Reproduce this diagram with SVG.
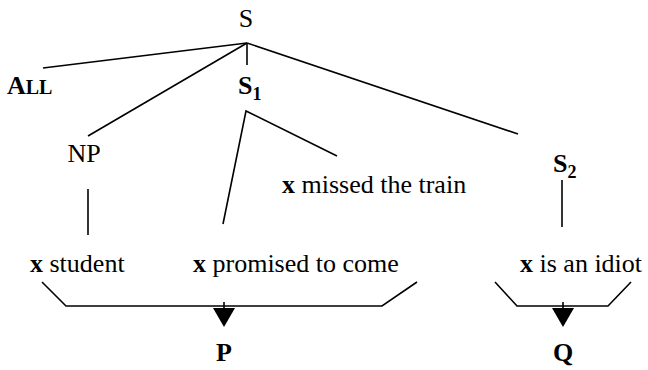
<svg xmlns="http://www.w3.org/2000/svg" width="648" height="370" viewBox="0 0 648 370">
<style>
text{font-family:"Liberation Serif","Times New Roman",serif;font-size:26px;fill:#000}
.b{font-weight:bold}
.sub{font-size:18px;font-weight:bold}
line,polyline{stroke:#000;stroke-width:1.6;fill:none}
.arr{fill:#000;stroke:none}
</style>
<g id="connectors">
<line x1="247" y1="43" x2="43" y2="68"/>
<line x1="247" y1="43" x2="247" y2="65"/>
<line x1="247" y1="43" x2="88" y2="136"/>
<line x1="247" y1="43" x2="518" y2="134"/>
<polyline points="223,224 246,111 337,156"/>
<line x1="88" y1="189" x2="88" y2="235"/>
<line x1="562" y1="180" x2="562" y2="227"/>
<polyline points="42,282 66,306 382,306 417,282"/>
<polyline points="495,282 517,306 608,306 631,282"/>
<line x1="224" y1="302" x2="224" y2="309"/>
<polygon class="arr" points="213,308 235,308 224,327"/>
<line x1="563" y1="302" x2="563" y2="309"/>
<polygon class="arr" points="552,308 574,308 563,327"/>
</g>
<g id="S"><text x="246" y="27" text-anchor="middle">S</text></g>
<g id="ALL"><text x="7" y="94" class="b">A<tspan font-size="20">LL</tspan></text></g>
<g id="S1"><text x="238" y="94" class="b">S<tspan class="sub" dy="6">1</tspan></text></g>
<g id="NP"><text x="84" y="162" text-anchor="middle">NP</text></g>
<g id="missed"><text x="282" y="193"><tspan class="b">x</tspan> missed the train</text></g>
<g id="S2"><text x="553" y="172" class="b">S<tspan class="sub" dy="6">2</tspan></text></g>
<g id="student"><text x="30" y="272"><tspan class="b">x</tspan> student</text></g>
<g id="promised"><text x="193" y="272"><tspan class="b">x</tspan> promised to come</text></g>
<g id="idiot"><text x="520" y="272"><tspan class="b">x</tspan> is an idiot</text></g>
<g id="P"><text x="224" y="361" text-anchor="middle" class="b">P</text></g>
<g id="Q"><text x="563" y="361" text-anchor="middle" class="b">Q</text></g>
</svg>
